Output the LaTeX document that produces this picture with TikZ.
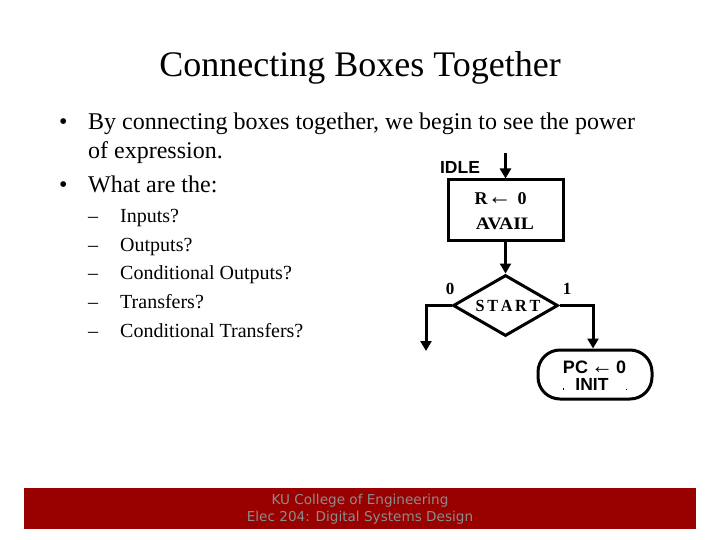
\documentclass[tikz,border=0pt]{standalone}
\usepackage{fontspec}
\setmainfont{Liberation Serif}
\setsansfont{Liberation Sans}
\newfontfamily\footfont{DejaVu Sans}
\usetikzlibrary{arrows.meta,shapes.geometric,calc}
\tikzset{
  txt/.style={inner sep=0pt,anchor=base west,text=black},
  flow/.style={line width=3pt,draw=black},
  arr/.style={flow,-{Triangle[length=10pt,width=11pt]}},
  sub/.style={txt,font=\fontsize{20}{20}\selectfont},
  main/.style={txt,font=\fontsize{24}{24}\selectfont},
}
\begin{document}
\begin{tikzpicture}[x=1pt,y=-1pt]
\useasboundingbox (0,0) rectangle (720,540);
\fill[white] (0,0) rectangle (720,540);
\node[inner sep=0pt,font=\fontsize{36}{36}\selectfont] (title) at (360,68) {Connecting Boxes Together};
\node[main] (b1) at (59,130) {•};
\node[main] (t1) at (88,130) {By connecting boxes together, we begin to see the power};
\node[main] (t2) at (88,159) {of expression.};
\node[main] (b2) at (59,193) {•};
\node[main] (t3) at (88,193) {What are the:};
\foreach \n/\y/\s in {a/222.5/Inputs?,b/251.5/Outputs?,c/279.5/Conditional Outputs?,d/308.5/Transfers?,e/337/Conditional Transfers?}{
  \node[sub] (d\n) at (88,\y) {–};
  \node[sub] (s\n) at (120,\y) {\s};
}
% flowchart
\node[draw=black,line width=3pt,minimum width=115pt,minimum height=60pt,inner sep=0pt] (idle) at (505.5,210) {};
\node[inner sep=0pt,font=\fontsize{18}{18}\selectfont\bfseries] (rz) at (500.5,199) {R{\fontsize{24}{24}\selectfont←}\,\,0};
\node[inner sep=0pt,font=\fontsize{17.5}{17.5}\selectfont\bfseries,xscale=1.12] (av) at (505,224) {AVAIL};
\node[inner sep=0pt,font=\fontsize{17.5}{17.5}\selectfont\sffamily\bfseries] (il) at (460,167) {IDLE};
\coordinate (entry) at (505.5,153);
\node[diamond,aspect=1.72,draw=black,line width=3pt,minimum width=105pt,minimum height=61pt,inner sep=0pt] (st) at (505.5,305.5) {};
\node[inner sep=0pt,font=\fontsize{17}{17}\selectfont\bfseries,xscale=.95] (stt) at (508,306) {S\,T\,A\,R\,T};
\node[draw=black,line width=3pt,rounded corners=22pt,minimum width=114pt,minimum height=49pt,inner sep=0pt] (init) at (595,374.5) {};
\node[inner sep=0pt,font=\fontsize{18}{18}\selectfont\sffamily\bfseries] (pc) at (594.5,367) {PC\,{\fontsize{22}{22}\selectfont←}\,0};
\node[inner sep=0pt,font=\fontsize{17.5}{17.5}\selectfont\sffamily\bfseries] (in) at (592,384) {INIT};
\node[inner sep=0pt,font=\fontsize{17}{17}\selectfont\bfseries] (zero) at (450,289) {0};
\node[inner sep=0pt,font=\fontsize{17}{17}\selectfont\bfseries] (one) at (567,289) {1};
\coordinate (exit) at (426,351);
\draw[arr] (entry) -- (idle.north);
\draw[arr] (idle.south) -- (st.north);
\draw[arr] (st.west) -| (exit);
\draw[arr] (st.east) -| ([xshift=-2pt]init.north);
\fill (563,387.5) rectangle (563.7,390);
\fill (626,388.5) rectangle (626.8,389.3);
% footer
\fill[fill=red!60!black] (24,488) rectangle (696,529);
\node[inner sep=0pt,align=center,text=black!45,font=\footfont\fontsize{13.6}{17.5}\selectfont] (foot) at (360,509) {KU College of Engineering\\Elec 204: Digital Systems Design};
\end{tikzpicture}
\end{document}
